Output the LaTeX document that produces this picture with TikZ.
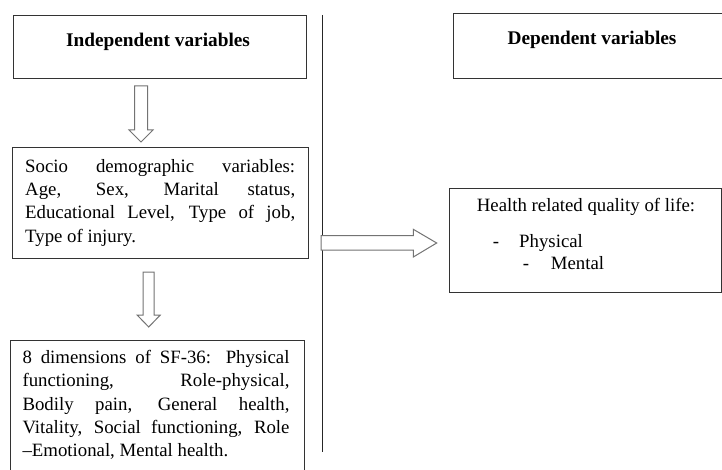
\documentclass[tikz,border=0pt]{standalone}
\usepackage{fontspec}
\setmainfont{Liberation Serif}
\tikzset{
  box/.style={draw=black!80, line width=1pt, inner sep=0pt, anchor=north west},
  harrow/.style={draw=black!55, line width=1pt, fill=white, line join=miter},
  body/.style={inner sep=0pt, font=\fontsize{18.8}{23.3}\selectfont},
  head/.style={inner sep=0pt, font=\fontsize{19.3}{23}\selectfont\bfseries, anchor=base},
  para/.style={body, anchor=north west, align=justify}
}
\begin{document}
\begin{tikzpicture}[x=1pt,y=-1pt]
\useasboundingbox (0,0) rectangle (722,470);
\clip (0,0) rectangle (722,470);
% boxes
\node[box, minimum width=293pt, minimum height=63pt] (b1) at (12.5,15) {};
\node[box, minimum width=269pt, minimum height=65pt] (b2) at (452.7,12.7) {};
\node[box, minimum width=296pt, minimum height=110.4pt] (b3) at (12.3,147.3) {};
\node[box, minimum width=294.3pt, minimum height=150pt] (b4) at (10,340) {};
\node[box, minimum width=272pt, minimum height=103.4pt] (b5) at (449,188.3) {};
% headings
\node[head] (t1) at (158,46.7) {Independent variables};
\node[head] (t2) at (592,45) {Dependent variables};
% paragraphs
\node[para, text width=270pt] (t3) at (25,172-15) {\rule{0pt}{15pt}Socio demographic variables:\linebreak Age, Sex, Marital status,\linebreak Educational Level, Type of job,\linebreak Type of injury.};
\node[para, text width=267pt] (t4) at (22.3,363.3-15) {\rule{0pt}{15pt}8 dimensions of SF-36: Physical\linebreak functioning, Role-physical,\linebreak Bodily pain, General health,\linebreak Vitality, Social functioning, Role\linebreak –Emotional, Mental health.};
% health text
\node[body, anchor=base west] (t5) at (476.7,211.7) {Health related quality of life:};
\node[body, anchor=base west] (d1) at (492.7,247.3) {-};
\node[body, anchor=base west] (t6) at (519,247.3) {Physical};
\node[body, anchor=base west] (d2) at (522.7,269.3) {-};
\node[body, anchor=base west] (t7) at (550.7,269.3) {Mental};
% vertical divider
\coordinate (vtop) at (322.3,15);
\coordinate (vbot) at (322.3,452);
\draw[line width=1.3pt, black!85] (vtop) -- (vbot);
% hollow arrows
\draw[harrow] (134.5,86) -- (147.5,86) -- (147.5,130) -- (153,130) -- (141,142) -- (129,130) -- (134.5,130) -- cycle;
\draw[harrow] (143.2,272) -- (154.2,272) -- (154.2,315) -- (160.3,315) -- (148.7,327) -- (137.1,315) -- (143.2,315) -- cycle;
\draw[harrow] (321,235.7) -- (413.3,235.7) -- (413.3,229.3) -- (436.7,243) -- (413.3,257) -- (413.3,250.2) -- (321,250.2) -- cycle;
\end{tikzpicture}
\end{document}
